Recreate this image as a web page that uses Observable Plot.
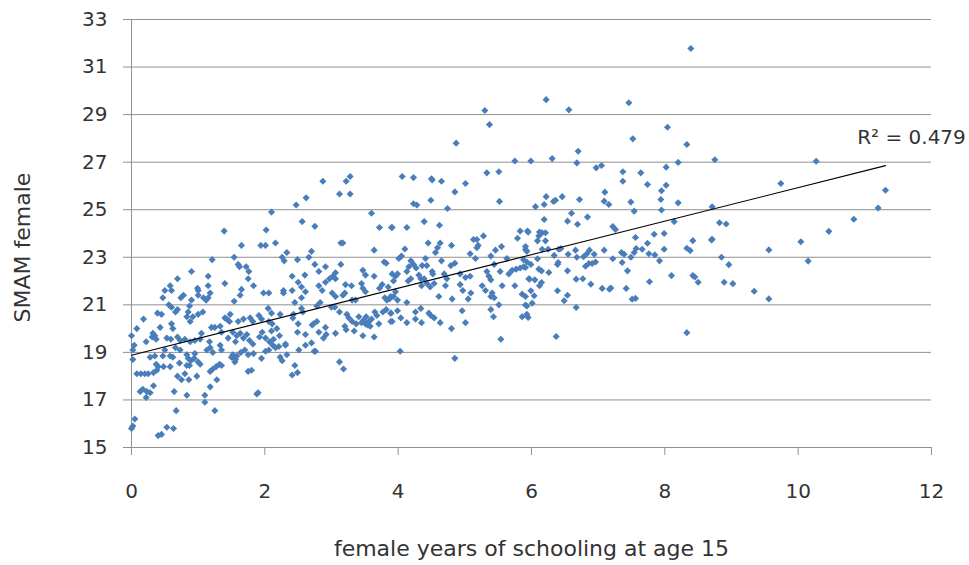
<!DOCTYPE html>
<html>
<head>
<meta charset="utf-8">
<script src="https://cdn.jsdelivr.net/npm/d3@7"></script>
<script src="https://cdn.jsdelivr.net/npm/@observablehq/plot@0.6"></script>
<style>
  html, body { margin: 0; padding: 0; background: #fff; }
  #chart svg { display: block; }
</style>
</head>
<body>
<div id="chart"></div>
<script>
// ---- data (schooling years, SMAM) ----
const band0to2 = [[1.39,24.1],[1.65,23.5],[1.21,22.9],[1.54,23.0],[1.6,22.7],[1.62,22.6],[1.72,22.6],[0.9,22.4],[1.15,22.2],[1.76,22.4],[0.69,22.1],[1.75,22.1],[0.58,21.8],[1.4,21.9],[1.15,21.8],[1.83,21.8],[0.5,21.6],[0.47,21.3],[0.6,21.6],[0.74,21.3],[0.78,21.4],[0.99,21.7],[1.0,21.6],[1.0,21.4],[1.18,21.5],[1.15,21.3],[1.08,21.3],[1.12,21.2],[1.65,21.65],[1.54,21.15],[1.63,21.4],[0.9,21.2],[0.56,21.0],[0.6,20.9],[0.69,20.8],[0.66,20.7],[0.45,20.6],[0.39,20.65],[0.87,20.95],[0.83,20.5],[0.85,20.7],[1.0,20.6],[1.07,20.7],[0.92,20.5],[0.88,20.3],[0.6,20.2],[0.62,20.0],[0.18,20.4],[0.43,20.05],[0.32,19.8],[0.35,19.7],[0.31,19.65],[0.08,20.0],[0.0,19.7],[0.04,19.3],[0.02,19.1],[0.02,18.7],[0.22,19.45],[0.37,19.55],[0.53,19.6],[0.59,19.55],[0.69,19.65],[0.73,19.5],[0.8,19.55],[0.88,19.45],[0.95,19.5],[1.05,19.8],[1.03,19.55],[1.2,20.05],[1.25,20.05],[1.33,20.1],[1.35,19.85],[1.43,20.4],[1.47,20.3],[1.48,20.6],[1.4,20.45],[1.6,20.3],[1.68,20.4],[1.78,20.45],[1.82,20.3],[1.52,19.85],[1.58,19.7],[1.63,19.8],[1.68,19.6],[1.73,19.75],[1.77,19.5],[1.82,19.35],[1.17,19.45],[1.13,19.1],[1.18,19.2],[1.22,19.0],[1.33,19.3],[1.35,19.1],[1.52,18.9],[1.54,18.75],[1.55,18.6],[1.75,18.9],[1.83,18.95],[0.35,18.85],[0.47,18.85],[0.28,18.8],[0.58,18.85],[0.62,18.8],[0.73,19.1],[0.83,18.9],[0.85,18.75],[0.89,18.65],[0.94,18.75],[1.0,18.6],[1.03,18.5],[0.83,18.45],[0.87,18.45],[0.48,18.4],[0.37,18.5],[0.4,18.4],[0.58,18.4],[0.72,18.55],[1.18,18.2],[1.22,18.3],[1.27,18.4],[1.32,18.5],[1.35,18.45],[1.28,17.85],[0.08,18.1],[0.14,18.1],[0.2,18.1],[0.25,18.1],[0.33,18.15],[0.38,18.25],[0.69,18.0],[0.75,17.85],[0.8,18.1],[0.86,17.85],[0.98,18.0],[1.75,18.2],[1.8,18.25],[0.13,17.35],[0.17,17.45],[0.23,17.35],[0.28,17.3],[0.22,17.1],[0.33,17.6],[0.64,17.35],[0.83,17.2],[1.1,17.2],[1.1,16.9],[1.18,17.55],[1.88,17.25],[1.25,16.55],[0.67,16.55],[0.05,16.2],[0.02,15.9],[0.0,15.8],[0.53,15.85],[0.63,15.8],[0.4,15.5],[0.45,15.55],[1.56,18.7],[1.5,18.8],[1.58,18.85],[1.64,19.0],[1.7,19.1],[1.45,19.6],[1.56,19.45],[0.95,18.95],[0.66,19.2],[0.5,19.1]];

const band2to4 = [[2.87,26.2],[3.22,26.2],[3.28,26.4],[3.12,25.66],[3.28,25.66],[2.62,25.5],[2.47,25.2],[2.1,24.9],[3.6,24.85],[2.56,24.5],[2.75,24.3],[2.02,24.15],[3.72,24.25],[3.9,24.25],[3.14,23.6],[3.17,23.6],[2.16,23.6],[1.94,23.5],[2.01,23.5],[2.33,23.2],[2.26,23.0],[2.29,22.85],[2.49,22.9],[2.7,23.25],[2.66,23.0],[3.64,23.3],[3.79,22.8],[3.82,22.75],[2.75,22.7],[2.91,22.6],[3.14,22.7],[2.81,22.4],[3.06,22.35],[3.02,22.2],[2.97,22.1],[2.91,21.95],[3.06,22.1],[3.47,22.45],[3.51,22.25],[3.64,22.2],[2.41,22.2],[2.6,22.25],[2.5,21.95],[2.55,21.75],[2.81,21.8],[2.86,21.6],[3.21,21.85],[3.3,21.8],[1.98,21.5],[2.06,21.5],[2.28,21.6],[2.28,21.5],[2.41,21.6],[2.61,21.55],[3.01,21.5],[3.06,21.35],[3.17,21.4],[3.2,21.5],[3.45,21.9],[3.47,21.7],[3.51,21.55],[3.76,21.85],[3.72,21.7],[3.85,21.75],[3.36,21.2],[3.31,21.2],[2.55,21.3],[2.45,21.1],[2.83,21.1],[2.78,20.95],[3.05,20.9],[3.0,20.9],[3.8,21.3],[3.83,21.2],[3.87,21.25],[3.93,21.35],[2.05,20.85],[2.1,20.65],[1.91,20.55],[1.95,20.4],[2.06,20.3],[2.11,20.2],[2.23,20.6],[2.43,20.6],[2.42,20.45],[2.55,20.85],[2.57,20.7],[2.78,20.3],[2.73,20.2],[2.71,20.15],[2.5,20.2],[3.12,20.7],[3.23,20.6],[3.26,20.45],[3.31,20.3],[3.37,20.2],[3.41,20.5],[3.48,20.35],[3.52,20.5],[3.56,20.3],[3.51,20.2],[3.58,20.1],[3.71,20.2],[3.77,20.7],[3.82,20.8],[3.89,20.65],[3.89,20.3],[3.65,20.7],[1.96,19.85],[2.01,19.6],[2.07,19.45],[2.13,19.55],[2.12,19.3],[2.16,19.2],[2.22,19.7],[2.31,19.3],[1.92,19.65],[2.49,19.85],[2.61,19.75],[2.81,19.85],[2.91,20.05],[2.92,19.75],[2.88,19.6],[3.06,19.8],[3.2,20.1],[3.22,19.95],[3.47,19.7],[3.64,19.65],[3.34,19.9],[2.31,19.35],[2.21,19.25],[2.06,19.1],[2.01,19.05],[2.51,19.1],[2.61,19.3],[2.7,19.4],[2.74,19.05],[2.76,19.05],[1.95,18.75],[2.23,18.8],[2.26,18.65],[2.33,18.9],[3.12,18.6],[3.18,18.3],[2.45,18.45],[2.41,18.05],[2.49,18.15],[1.9,17.3],[3.45,20.25],[3.54,20.15],[3.6,20.4],[3.68,20.55],[2.1,19.9],[2.18,20.0]];

const band4to6 = [[5.75,27.05],[5.33,26.55],[5.51,26.6],[4.06,26.4],[4.23,26.35],[4.5,26.3],[4.51,26.25],[4.65,26.2],[5.01,26.1],[4.85,25.75],[4.49,25.4],[4.23,25.25],[4.28,25.2],[5.52,25.35],[4.74,25.05],[4.39,24.5],[4.62,24.35],[3.91,24.25],[4.13,24.25],[5.83,24.1],[5.94,24.1],[4.45,23.6],[4.63,23.6],[4.59,23.4],[4.8,23.5],[4.1,23.35],[5.13,23.75],[5.18,23.75],[5.28,23.9],[5.2,23.5],[5.18,23.4],[5.39,23.05],[5.46,23.3],[5.55,23.45],[5.79,23.8],[5.91,23.45],[5.93,23.25],[4.56,23.2],[4.41,22.95],[4.19,22.85],[4.05,23.05],[4.01,22.95],[4.65,22.85],[4.79,22.65],[4.85,22.75],[5.08,23.15],[5.16,22.95],[4.16,22.6],[4.23,22.7],[4.27,22.55],[4.36,22.65],[4.43,22.65],[4.51,22.4],[4.52,22.3],[3.91,22.3],[3.96,22.2],[3.93,22.0],[3.99,22.3],[4.13,22.4],[4.15,22.0],[4.19,22.1],[4.31,22.25],[4.34,22.1],[4.39,22.1],[4.69,22.3],[4.73,22.1],[4.93,22.3],[5.01,22.15],[5.08,22.2],[5.33,22.4],[5.36,22.2],[5.39,22.05],[5.44,22.7],[5.53,22.4],[5.66,22.3],[5.71,22.45],[5.77,22.5],[5.83,22.55],[5.88,22.6],[5.93,22.8],[5.88,22.9],[5.63,22.95],[3.96,21.55],[3.89,21.35],[3.99,21.2],[4.13,21.1],[4.35,21.8],[4.43,21.9],[4.48,21.75],[4.54,21.9],[4.71,21.8],[4.61,21.35],[4.81,21.25],[4.93,21.85],[4.97,21.6],[5.09,21.5],[5.05,21.25],[5.26,21.8],[5.31,21.6],[5.41,21.5],[5.39,21.35],[5.44,21.3],[5.56,21.8],[5.75,21.8],[5.86,21.45],[5.91,21.35],[5.51,21.0],[5.39,20.8],[5.43,20.5],[5.93,20.95],[3.99,20.75],[3.89,20.65],[3.91,20.3],[4.04,20.45],[4.13,20.25],[4.26,20.7],[4.26,20.4],[4.34,20.85],[4.35,20.25],[4.46,20.65],[4.49,20.55],[4.54,20.45],[4.63,20.25],[4.8,20.0],[4.96,20.75],[5.01,20.25],[5.86,20.5],[5.93,20.6],[5.54,19.55],[4.03,19.05],[4.85,18.75],[5.3,29.17],[5.37,28.58],[4.87,27.8]];

const band6to8 = [[6.22,29.63],[6.56,29.2],[7.46,29.5],[7.52,27.98],[6.7,27.46],[6.68,26.97],[5.99,27.05],[6.31,27.15],[6.97,26.76],[7.05,26.86],[7.37,26.6],[7.37,26.2],[7.64,26.55],[7.74,26.06],[7.95,25.8],[6.22,25.55],[6.36,25.4],[6.33,25.35],[6.46,25.55],[6.72,25.43],[7.1,25.74],[7.09,25.36],[7.16,25.22],[7.49,25.32],[7.54,24.94],[7.94,25.43],[7.95,24.99],[6.06,25.13],[6.19,25.22],[6.19,24.59],[6.12,24.06],[6.16,24.03],[5.95,24.06],[5.91,23.33],[6.11,23.9],[6.21,24.03],[6.09,23.69],[6.21,23.69],[6.6,24.85],[6.54,24.52],[6.84,24.69],[6.69,24.39],[7.22,24.29],[7.26,24.17],[7.56,23.83],[7.84,23.97],[7.99,24.0],[7.74,23.59],[7.57,23.37],[7.99,23.34],[6.16,23.34],[6.25,23.34],[6.34,23.08],[6.41,23.34],[6.44,23.37],[6.55,23.13],[6.66,23.3],[6.68,23.0],[6.78,23.02],[6.83,23.15],[6.87,23.3],[6.94,23.13],[6.86,22.74],[6.81,22.62],[6.91,22.74],[6.96,22.8],[7.09,23.3],[7.22,22.94],[7.35,23.2],[7.39,23.13],[7.36,22.78],[7.49,23.0],[7.54,23.2],[7.66,23.34],[7.76,23.15],[7.85,23.1],[7.92,22.85],[5.99,22.7],[6.09,22.94],[6.11,22.5],[6.15,22.43],[6.26,22.36],[5.91,22.57],[5.96,22.1],[6.4,22.78],[6.39,22.7],[6.54,22.43],[7.44,22.43],[5.97,22.08],[6.05,22.05],[6.12,21.8],[6.15,21.94],[6.67,22.08],[6.77,22.1],[6.89,21.87],[5.99,21.59],[6.04,21.38],[6.39,21.59],[6.54,21.4],[6.49,21.17],[7.06,21.69],[7.17,21.66],[7.19,21.71],[7.42,21.69],[7.51,21.24],[7.56,21.27],[7.77,21.97],[5.91,20.99],[6.01,21.07],[5.95,20.47],[6.67,20.89],[6.37,19.67]];

const band8plus = [[8.39,31.78],[8.04,28.47],[8.33,27.74],[8.02,26.79],[8.2,26.99],[8.75,27.1],[8.02,26.03],[8.2,25.29],[8.71,25.12],[9.74,26.1],[8.14,24.5],[8.82,24.45],[8.92,24.4],[8.42,23.7],[8.7,23.73],[8.71,23.76],[8.33,23.38],[8.38,23.28],[9.56,23.31],[10.04,23.65],[8.85,23.0],[8.96,22.69],[8.1,22.23],[8.42,22.23],[8.45,22.17],[8.5,21.95],[8.89,21.95],[9.02,21.89],[9.34,21.57],[9.56,21.25],[8.33,19.83],[10.27,27.04],[11.31,25.82],[11.2,25.07],[10.835,24.6],[10.46,24.09],[10.15,22.84]];

const xTicks = [0, 2, 4, 6, 8, 10, 12];
const yTicks = [15, 17, 19, 21, 23, 25, 27, 29, 31, 33];
const trendIntercept = 18.88;
const trendSlope = 0.705;
const trendXRange = [0, 11.31];
const r2Label = "R\u00B2 = 0.479";
const xTitle = "female years of schooling at age 15";
const yTitle = "SMAM female";

// ---- build ----
const points = [...band0to2, ...band2to4, ...band4to6, ...band6to8, ...band8plus]
  .map(([x, y]) => ({x, y}));
const trend = trendXRange.map(x => ({x, y: trendIntercept + trendSlope * x}));
const trendEnd = [trend[trend.length - 1]];

const font = "'DejaVu Sans', 'Open Sans', sans-serif";
const gridColor = "#8f8f8f";
const textColor = "#333333";

const chart = Plot.plot({
  width: 969,
  height: 565,
  marginLeft: 131,
  marginRight: 38,
  marginTop: 19,
  marginBottom: 118,
  style: {fontFamily: font, fontSize: "20px", color: textColor, background: "#fff"},
  x: {domain: [0, 12], ticks: xTicks},
  y: {domain: [15, 33], ticks: yTicks},
  marks: [
    Plot.gridY(yTicks, {stroke: gridColor, strokeOpacity: 1, strokeWidth: 1}),
    Plot.ruleX([0], {stroke: gridColor, strokeWidth: 1}),
    Plot.ruleY([15], {stroke: gridColor, strokeWidth: 1}),
    Plot.axisX({ticks: xTicks, tickSize: 8, tickPadding: 28, label: null, stroke: gridColor, fontSize: 20, fill: textColor, tickFormat: d => String(d)}),
    Plot.axisY({ticks: yTicks, tickSize: 8, tickPadding: 16, label: null, stroke: gridColor, fontSize: 20, fill: textColor, tickFormat: d => String(d)}),
    Plot.dot(points, {x: "x", y: "y", symbol: "diamond2", r: 3.2, fill: "#4a7ebb", stroke: null}),
    Plot.line(trend, {x: "x", y: "y", stroke: "#000", strokeWidth: 1.1}),
    Plot.text(trendEnd, {x: "x", y: "y", text: () => r2Label, dx: 26, dy: -28, textAnchor: "middle", fontSize: 20, fill: textColor}),
    Plot.text([xTitle], {frameAnchor: "bottom", textAnchor: "middle", lineAnchor: "middle", dy: 101, fontSize: 22, fill: textColor}),
    Plot.text([yTitle], {frameAnchor: "left", textAnchor: "middle", lineAnchor: "middle", rotate: -90, dx: -109, dy: 14, fontSize: 22, fill: textColor})
  ]
});
document.getElementById("chart").appendChild(chart);
</script>
</body>
</html>
